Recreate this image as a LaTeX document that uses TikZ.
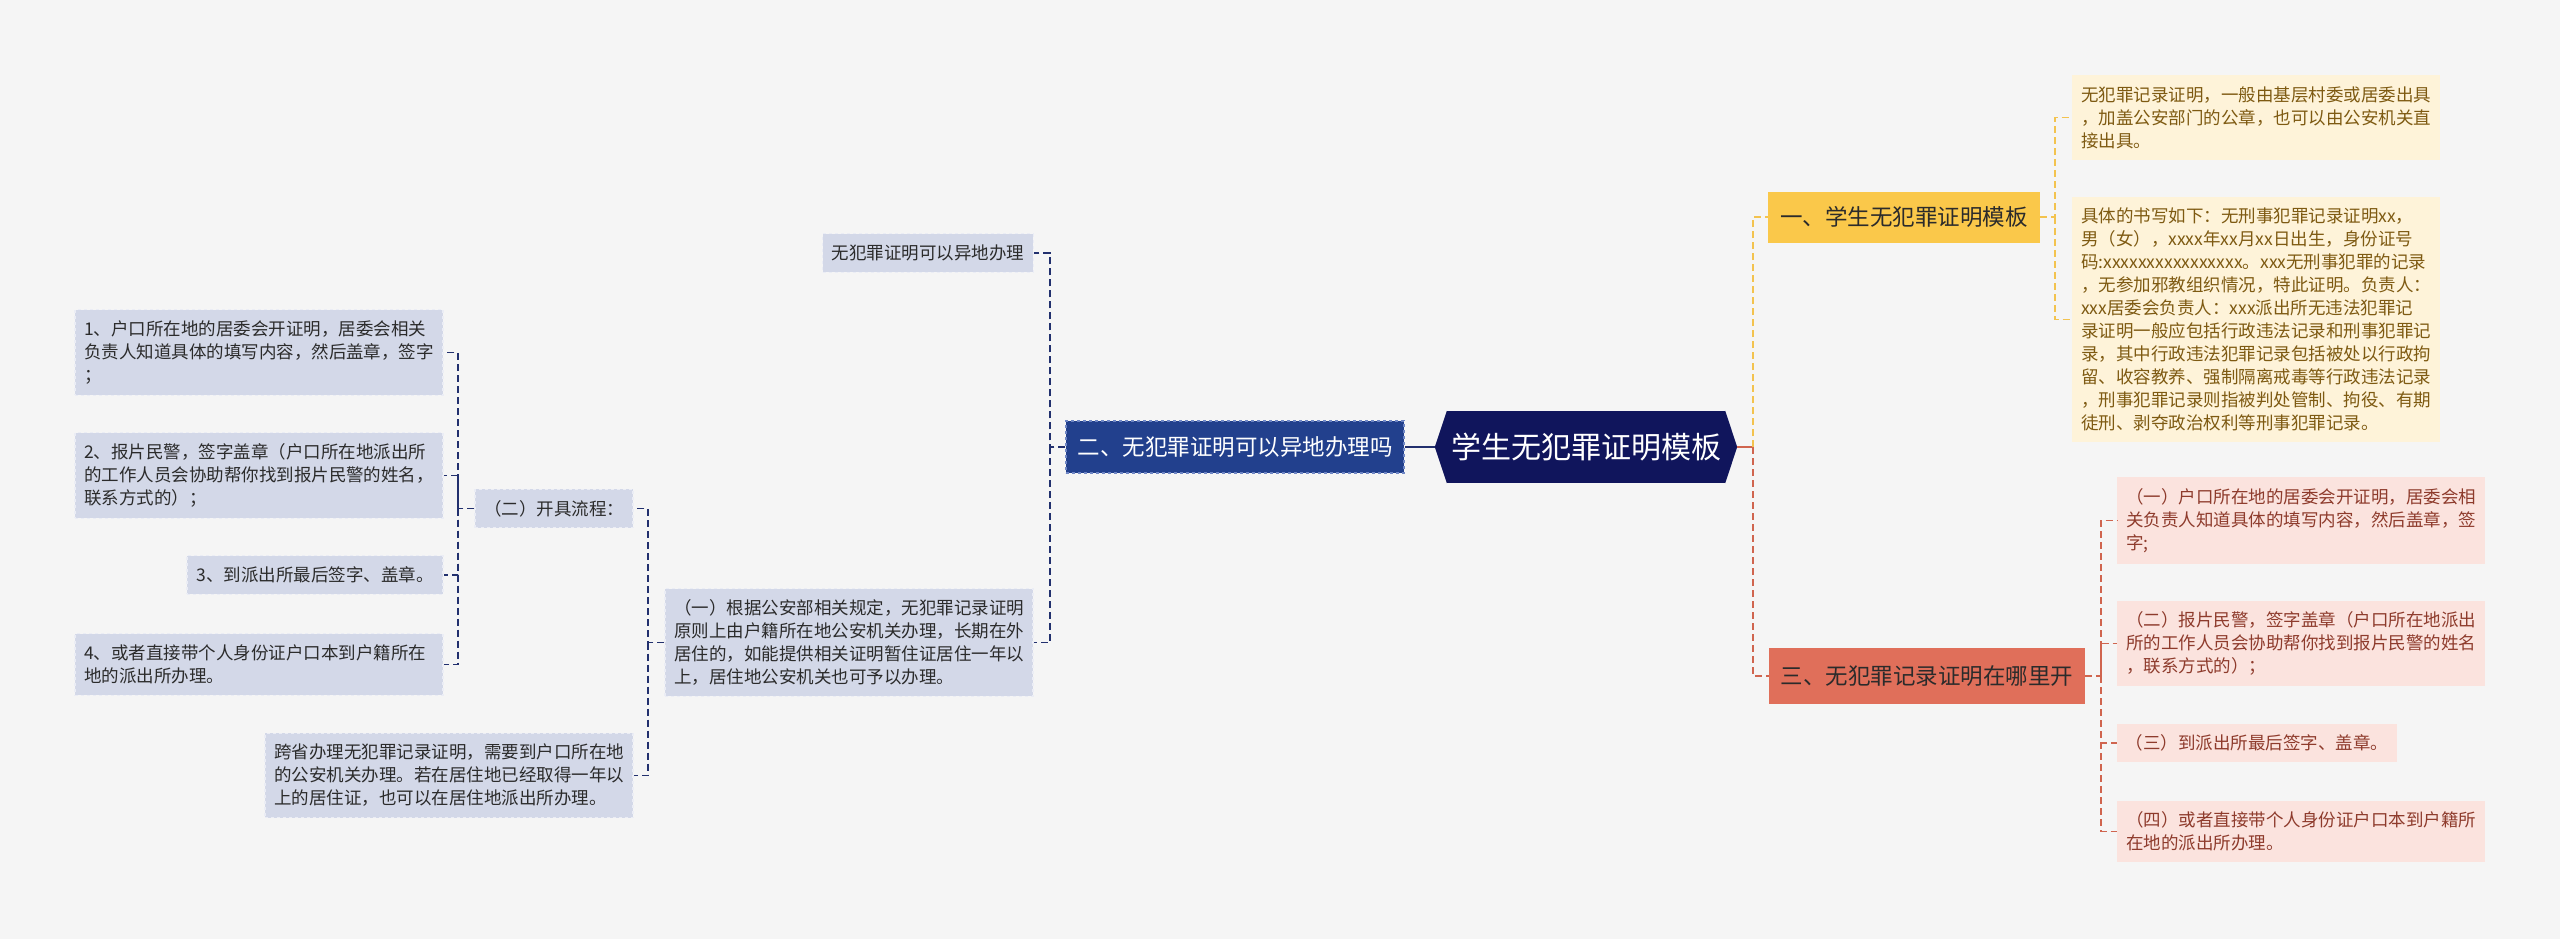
\documentclass[tikz,border=0pt]{standalone}
\usepackage{fontspec}
\setmainfont{Noto Sans CJK SC}
\usepackage{tikz}
\usetikzlibrary{calc}
\definecolor{bgGrey}{HTML}{F5F5F5}
\definecolor{rootBlue}{HTML}{10155C}
\definecolor{midBlue}{HTML}{22408D}
\definecolor{edgeBlue}{HTML}{6F86C4}
\definecolor{greyBlue}{HTML}{D3D8E8}
\definecolor{lineBlue}{HTML}{22306E}
\definecolor{sunYellow}{HTML}{FAC84A}
\definecolor{paleYellow}{HTML}{FEF3D9}
\definecolor{lineYellow}{HTML}{F3C34F}
\definecolor{textBrown}{HTML}{7E5A12}
\definecolor{brickRed}{HTML}{E06F5A}
\definecolor{palePink}{HTML}{FBE3DE}
\definecolor{textRed}{HTML}{8E3B2C}
\definecolor{lineRed}{HTML}{D0654F}
\definecolor{darkText}{HTML}{2B2B2B}

\begin{document}
\begin{tikzpicture}[x=1pt,y=-1pt,
    rootnode/.style={fill=rootBlue,text=white,minimum width=278pt,minimum height=72pt,inner sep=0pt,font=\fontsize{30}{36}\selectfont},
    topic/.style={minimum height=52pt,inner sep=0pt,font=\fontsize{22.5}{28}\selectfont},
    leaf/.style={align=left,inner xsep=9pt,inner ysep=11pt,font=\fontsize{17.5}{23}\selectfont},
    wide/.style={leaf,text width=350pt},
    gleaf/.style={fill=greyBlue,draw=white!55!greyBlue,dashed,line width=1.2pt,text=darkText},
    yleaf/.style={fill=paleYellow,text=textBrown},
    rleaf/.style={fill=palePink,text=textRed},
    bline/.style={draw=lineBlue,line width=1.6pt,dash pattern=on 7pt off 4pt},
    yline/.style={draw=lineYellow,line width=1.6pt,dash pattern=on 7pt off 4pt},
    rline/.style={draw=lineRed,line width=1.6pt,dash pattern=on 7pt off 4pt}]

    \fill[bgGrey] (0,0) rectangle (2560,939);
    \useasboundingbox (0,0) rectangle (2560,939);

    % centre
    \node[rootnode] (root) at (1586,447) {学生无犯罪证明模板};
    \coordinate (rootL) at ($(root.west)+(-12,0)$);
    \coordinate (rootR) at ($(root.east)+(12,0)$);
    \fill[rootBlue] (root.north west) -- (rootL) -- (root.south west) -- cycle;
    \fill[rootBlue] (root.north east) -- (rootR) -- (root.south east) -- cycle;

    % main topics
    \node[topic,fill=sunYellow,text=darkText,minimum width=272pt,minimum height=51pt] (b1) at (1904,217) {一、学生无犯罪证明模板};
    \node[topic,fill=midBlue,text=white,draw=edgeBlue,dashed,line width=1.2pt,minimum width=338pt] (b2) at (1235,447) {二、无犯罪证明可以异地办理吗};
    \node[topic,fill=brickRed,text=darkText,minimum width=316pt,minimum height=56pt] (b3) at (1927,676) {三、无犯罪记录证明在哪里开};

    % yellow
    \node[wide,yleaf] (y1a) at (2256,117.5) {无犯罪记录证明，一般由基层村委或居委出具\\，加盖公安部门的公章，也可以由公安机关直\\接出具。};
    \node[wide,yleaf] (y1b) at (2256,319.5) {具体的书写如下：无刑事犯罪记录证明xx，\\男（女），xxxx年xx月xx日出生，身份证号\\码:xxxxxxxxxxxxxxxx。xxx无刑事犯罪的记录\\，无参加邪教组织情况，特此证明。负责人：\\xxx居委会负责人：xxx派出所无违法犯罪记\\录证明一般应包括行政违法记录和刑事犯罪记\\录，其中行政违法犯罪记录包括被处以行政拘\\留、收容教养、强制隔离戒毒等行政违法记录\\，刑事犯罪记录则指被判处管制、拘役、有期\\徒刑、剥夺政治权利等刑事犯罪记录。};

    % red
    \node[wide,rleaf] (r1) at (2301,520.5) {（一）户口所在地的居委会开证明，居委会相\\关负责人知道具体的填写内容，然后盖章，签\\字;};
    \node[wide,rleaf] (r2) at (2301,643.5) {（二）报片民警，签字盖章（户口所在地派出\\所的工作人员会协助帮你找到报片民警的姓名\\，联系方式的）；};
    \node[leaf,rleaf,minimum width=280pt] (r3) at (2257,743) {（三）到派出所最后签字、盖章。};
    \node[wide,rleaf] (r4) at (2301,831.5) {（四）或者直接带个人身份证户口本到户籍所\\在地的派出所办理。};

    % blue
    \node[leaf,gleaf,minimum width=210pt] (g1) at (928,253) {无犯罪证明可以异地办理};
    \node[wide,gleaf] (g2) at (849,642.5) {（一）根据公安部相关规定，无犯罪记录证明\\原则上由户籍所在地公安机关办理，长期在外\\居住的，如能提供相关证明暂住证居住一年以\\上，居住地公安机关也可予以办理。};
    \node[leaf,gleaf,minimum width=158pt] (g3) at (554,508.5) {（二）开具流程：};
    \node[wide,gleaf] (g4) at (449,775.5) {跨省办理无犯罪记录证明，需要到户口所在地\\的公安机关办理。若在居住地已经取得一年以\\上的居住证，也可以在居住地派出所办理。};
    \node[wide,gleaf] (h1) at (259,352.5) {1、户口所在地的居委会开证明，居委会相关\\负责人知道具体的填写内容，然后盖章，签字\\；};
    \node[wide,gleaf] (h2) at (259,475.5) {2、报片民警，签字盖章（户口所在地派出所\\的工作人员会协助帮你找到报片民警的姓名，\\联系方式的）；};
    \node[leaf,gleaf,minimum width=256pt] (h3) at (315,575) {3、到派出所最后签字、盖章。};
    \node[wide,gleaf] (h4) at (259,664.5) {4、或者直接带个人身份证户口本到户籍所在\\地的派出所办理。};

    % links right
    \coordinate (rs) at (1753,447);
    \coordinate (ys) at (2055,217);
    \coordinate (ts) at (2101,676);
    \draw[lineRed,line width=2pt] (rootR) -- (rs);
    \draw[yline] (rs) |- (b1.west);
    \draw[rline] (rs) |- (b3.west);
    \draw[yline] (b1.east) -- (ys) |- (y1a.west);
    \draw[yline] (ys) |- (y1b.west);
    \draw[rline] (b3.east) -- (ts) |- (r1.west);
    \draw[rline] (ts) |- (r2.west);
    \draw[rline] (ts) |- (r3.west);
    \draw[rline] (ts) |- (r4.west);

    % links left
    \coordinate (ls) at (1050,447);
    \coordinate (gs) at (648,642.5);
    \coordinate (hs) at (458,508.5);
    \draw[lineBlue,line width=2pt] (rootL) -- (b2.east);
    \draw[bline] (b2.west) -- (ls) |- (g1.east);
    \draw[bline] (ls) |- (g2.east);
    \draw[bline] (g2.west) -- (gs) |- (g3.east);
    \draw[bline] (gs) |- (g4.east);
    \draw[bline] (g3.west) -- (hs) |- (h1.east);
    \draw[bline] (hs) |- (h2.east);
    \draw[bline] (hs) |- (h3.east);
    \draw[bline] (hs) |- (h4.east);
\end{tikzpicture}
\end{document}
